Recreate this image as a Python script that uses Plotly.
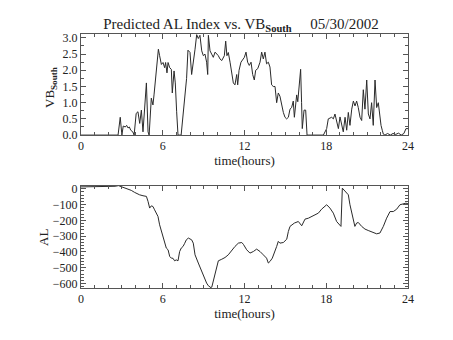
import plotly.graph_objects as go

# Southward IMF component (nT) vs. UT hours
vb_hours = [0, 1.9, 2.0, 2.1, 2.72, 2.88, 3.0, 3.1, 3.25, 3.35, 3.45, 3.55, 3.65, 3.8, 3.9,
            4.05, 4.18, 4.31, 4.43, 4.55, 4.68, 4.8, 4.92, 5.0, 5.16, 5.28, 5.36, 5.46,
            5.6, 5.68, 5.77, 5.9, 6.02, 6.14, 6.21, 6.31, 6.39, 6.51, 6.63, 6.7, 6.83,
            6.92, 7.02, 7.12, 7.35, 7.5, 7.62, 7.75, 7.85, 8.0, 8.12, 8.24, 8.37, 8.49,
            8.61, 8.73, 8.86, 8.98, 9.1, 9.22, 9.3, 9.35, 9.47, 9.59, 9.71, 9.84, 9.96,
            10.08, 10.2, 10.33, 10.52, 10.62, 10.71, 10.81, 10.94, 11.06, 11.18, 11.3,
            11.43, 11.5, 11.6, 11.74, 11.84, 11.99, 12.11, 12.23, 12.35, 12.48, 12.6,
            12.72, 12.82, 12.97, 13.14, 13.26, 13.38, 13.5, 13.62, 13.75, 13.87, 13.99,
            14.11, 14.24, 14.36, 14.48, 14.6, 14.73, 14.85, 14.97, 15.09, 15.22, 15.34,
            15.46, 15.58, 15.66, 15.71, 15.83, 15.91, 16.0, 16.12, 16.19, 16.24, 16.37,
            16.49, 16.59, 17.79, 18.03, 18.15, 18.4, 18.52, 18.64, 18.76, 18.89, 19.01,
            19.13, 19.25, 19.38, 19.5, 19.62, 19.74, 19.87, 19.99, 20.11, 20.23, 20.35,
            20.48, 20.6, 20.72, 20.84, 20.97, 21.09, 21.21, 21.33, 21.45, 21.58, 21.7,
            21.82, 21.94, 22.02, 22.11, 22.19, 22.31, 22.5, 22.7, 22.9, 23.1, 23.3,
            23.5, 23.7, 23.85, 24.0]
vb_south = [0, 0, 0.02, 0, 0, 0.55, 0, 0.28, 0.25, 0.3, 0.22, 0.25, 0.15, 0.1, 0.0,
            0.67, 0.72, 0.36, 0.77, 0.1, 0.9, 1.61, 0.1, 0.0, 1.14, 0.93, 1.24, 1.66,
            2.29, 2.65, 2.45, 2.18, 2.24, 2.08, 2.24, 1.92, 2.24, 2.08, 2.03, 1.3, 1.98,
            1.61, 0.72, 0.0, 0.0, 0.6, 1.2, 1.75, 2.62, 2.55, 1.87, 2.2, 2.65, 3.1,
            2.98, 3.08, 2.6, 2.45, 2.5, 2.25, 1.87, 3.08, 2.6, 2.5, 2.4, 2.56, 2.5,
            2.45, 2.35, 2.3, 2.45, 2.9, 2.45, 2.55, 2.25, 1.87, 1.61, 1.55,
            1.87, 1.55, 2.0, 2.25, 2.3, 2.4, 2.56, 2.25, 2.15, 2.25, 1.87,
            1.7, 2.0, 2.05, 2.25, 2.56, 2.35, 2.56, 2.2, 2.25, 2.1, 1.55,
            1.5, 1.5, 1.0, 1.3, 1.2, 0.9, 0.7, 0.55, 0.5, 0.55, 0.8,
            0.85, 1.05, 0.55, 0.8, 1.24, 1.03, 1.45, 2.03, 1.0, 0.2, 0.77,
            0.77, 0.0, 0.0, 0.2, 0.5, 0.55, 0.5, 0.65, 0.45, 0.2, 0.56,
            0.3, 0.1, 0.55, 0.15, 0.7, 0.3, 0.8, 1.05, 0.9, 1.05, 0.85,
            0.55, 0.45, 1.4, 0.8, 1.7, 0.65, 0.5, 1.0, 0.3, 1.7, 0.85,
            1.0, 0.55, 0.3, 0.15, 0.03, 0.0, 0.05, 0.0, 0.05, 0.02, 0.06,
            0.0, 0.05, 0.2, 0.2]

# Predicted AL index (nT) vs. UT hours
al_hours = [0, 1.0, 2.0, 2.5, 2.75, 2.9, 3.2, 3.45, 3.69, 3.94, 4.13, 4.3, 4.55, 4.8,
            4.92, 5.04, 5.16, 5.28, 5.4, 5.53, 5.65, 5.77, 5.9, 6.02, 6.14, 6.26, 6.39,
            6.51, 6.63, 6.75, 6.87, 6.99, 7.12, 7.24, 7.36, 7.49, 7.61, 7.73, 7.88, 8.0,
            8.12, 8.24, 8.37, 8.61, 8.86, 9.1, 9.22, 9.35, 9.54, 9.6, 9.79, 9.96, 10.08,
            10.33, 10.57, 10.81, 11.06, 11.3, 11.55, 11.8, 11.92, 12.16, 12.4, 12.65,
            12.89, 13.14, 13.38, 13.62, 13.75, 13.87, 14.04, 14.24, 14.36, 14.48, 14.6,
            14.85, 15.1, 15.22, 15.34, 15.66, 15.95, 16.2, 16.44, 16.69, 16.93, 17.18,
            17.42, 17.66, 18.03, 18.27, 18.52, 18.76, 19.01, 19.08, 19.18, 19.37, 19.62,
            19.74, 19.86, 19.98, 20.1, 20.23, 20.35, 20.6, 20.84, 21.08, 21.45, 21.7,
            21.94, 22.19, 22.43, 22.68, 22.92, 23.17, 23.41, 23.66, 23.85, 24.0]
al_index = [12, 13, 14, 16, 20, 16, 6, -2, -10, -23, -32, -38, -44, -48,
            -80, -122, -108, -112, -133, -154, -175, -228, -270, -312, -344, -375, -386,
            -428, -439, -440, -456, -450, -456, -397, -375, -365, -345, -323, -312, -318,
            -323, -344, -418, -470, -523, -576, -597, -614, -626, -622, -555, -502, -456,
            -446, -435, -418, -390, -365, -344, -340, -352, -386, -407, -397,
            -382, -397, -418, -439, -470, -460, -439, -397, -365, -333, -344,
            -340, -319, -270, -238, -217, -207, -234, -192, -186, -175, -165,
            -154, -129, -101, -122, -154, -207, -228, -238, 4, -17, -38,
            -101, -150, -196, -238, -217, -213, -238, -255, -264, -276, -285,
            -280, -238, -186, -144, -144, -129, -101, -95, -91, -95]

hour_ticks = [0, 6, 12, 18, 24]

SERIF = "Liberation Serif"
LINE = "#2a2a2a"
FRAME = "#555555"

fig = go.Figure()
fig.add_trace(go.Scatter(x=vb_hours, y=vb_south, mode="lines",
                         line=dict(color=LINE, width=1), xaxis="x", yaxis="y"))
fig.add_trace(go.Scatter(x=al_hours, y=al_index, mode="lines",
                         line=dict(color=LINE, width=1), xaxis="x2", yaxis="y2"))

common = dict(showgrid=False, zeroline=False, showline=True, linecolor=FRAME,
              linewidth=1, mirror="ticks", ticks="inside", tickcolor=FRAME,
              tickwidth=1, tickfont=dict(family=SERIF, size=12, color="#222"))

xcommon = dict(common, range=[0, 24], tickvals=hour_ticks, ticklen=5,
               minor=dict(dtick=1, ticklen=3, ticks="inside", tickcolor=FRAME),
               title=dict(text="time(hours)", standoff=2,
                          font=dict(family=SERIF, size=13, color="#222")))

fig.update_layout(
    width=453, height=340,
    margin=dict(l=81, r=45, t=34, b=52),
    paper_bgcolor="white", plot_bgcolor="white",
    showlegend=False,
    title=dict(text="Predicted AL Index vs. VB<sub><b>South</b></sub>\u00a0\u00a0\u00a0\u00a0\u00a005/30/2002",
               x=0.532, xanchor="center", y=1 - 24 / 340, yanchor="middle",
               font=dict(family=SERIF, size=15, color="#222")),
    xaxis=dict(xcommon, domain=[0, 1], anchor="y"),
    yaxis=dict(common, domain=[0.602, 1], anchor="x", range=[0, 3.12],
               dtick=0.5, tickformat=".1f", ticklen=5,
               minor=dict(dtick=0.25, ticklen=3, ticks="inside", tickcolor=FRAME)),
    xaxis2=dict(xcommon, domain=[0, 1], anchor="y2"),
    yaxis2=dict(common, domain=[0, 0.403], anchor="x2", range=[-628, 20],
                dtick=100, ticklen=5,
                minor=dict(dtick=20, ticklen=3, ticks="inside", tickcolor=FRAME)),
    annotations=[
        dict(text="VB<sub><b>South</b></sub>", textangle=-90, xref="paper", yref="paper",
             x=(51 - 81) / 327, y=(288 - 88) / 254, xanchor="center", yanchor="middle",
             showarrow=False, font=dict(family=SERIF, size=13, color="#222")),
        dict(text="AL", textangle=-90, xref="paper", yref="paper",
             x=(43 - 81) / 327, y=(288 - 238) / 254, xanchor="center", yanchor="middle",
             showarrow=False, font=dict(family=SERIF, size=13, color="#222")),
    ],
)

fig.write_html("out.html")
